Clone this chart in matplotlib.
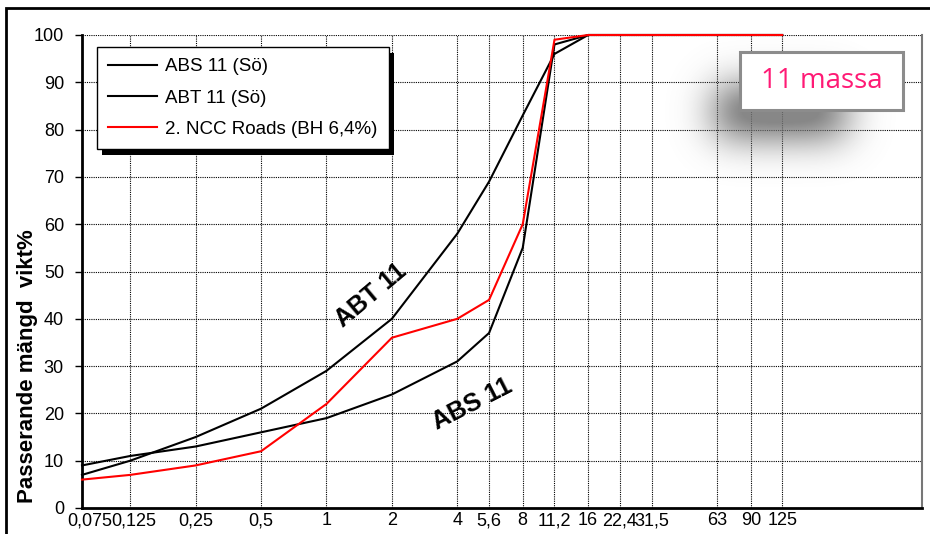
import numpy as np
import matplotlib
matplotlib.use("Agg")
import matplotlib.pyplot as plt
from matplotlib.patches import Rectangle
from matplotlib.transforms import ScaledTranslation

plt.rcParams['font.family'] = ['Liberation Sans', 'DejaVu Sans']

# Sieve sizes (mm) and tick labels
sieves = [0.075, 0.125, 0.25, 0.5, 1, 2, 4, 5.6, 8, 11.2, 16, 22.4, 31.5, 63, 90, 125]
tick_labels = ['0,075', '0,125', '0,25', '0,5', '1', '2', '4', '5,6', '8', '11,2',
               '16', '22,4', '31,5', '63', '90', '125']

# Passing percentages
abs11 = [9, 11, 13, 16, 19, 24, 31, 37, 55, 98, 100, 100, 100, 100, 100, 100]
abt11 = [7, 10, 15, 21, 29, 40, 58, 69, 83, 96, 100, 100, 100, 100, 100, 100]
ncc = [6, 7, 9, 12, 22, 36, 40, 44, 60, 99, 100, 100, 100, 100, 100, 100]

W, H = 930, 534
fig = plt.figure(figsize=(W / 100, H / 100), dpi=100)

# axes placed in pixel terms
left, right, top, bottom = 82, 922, 35, 508
ax = fig.add_axes([left / W, 1 - bottom / H, (right - left) / W, (bottom - top) / H])

ax.plot(sieves, abs11, color='black', lw=1.5, label='ABS 11 (Sö)', zorder=3, clip_on=False)
ax.plot(sieves, abt11, color='black', lw=1.5, label='ABT 11 (Sö)', zorder=3, clip_on=False)
ax.plot(sieves, ncc, color='red', lw=1.5, label='2. NCC Roads (BH 6,4%)', zorder=4, clip_on=False)

ax.set_xscale('log')
ax.set_xlim(0.075, 550)
ax.set_ylim(0, 100)
ax.set_xticks(sieves)
ax.set_xticklabels(tick_labels, fontsize=13)
ax.xaxis.set_minor_locator(matplotlib.ticker.NullLocator())
ax.set_yticks(range(0, 101, 10))
ax.tick_params(axis='y', labelsize=13, length=5, width=1, direction='out', pad=8)
ax.tick_params(axis='x', length=0, pad=3)

# first two labels sit a little right of their ticks, as in the original
for lbl, dx in zip(ax.get_xticklabels()[:2], [0.08, 0.04]):
    lbl.set_transform(lbl.get_transform() + ScaledTranslation(dx, 0, fig.dpi_scale_trans))

ax.grid(True, color='black', linestyle=(0, (1, 1)), linewidth=0.8)
ax.set_axisbelow(True)

for s in ['left', 'bottom']:
    ax.spines[s].set_linewidth(2)
    ax.spines[s].set_color('black')
ax.spines['top'].set_visible(False)
ax.spines['right'].set_color('#777777')
ax.spines['right'].set_linewidth(1.5)

ax.set_ylabel('Passerande mängd  vikt%', fontsize=16, fontweight='bold')
ax.yaxis.set_label_coords((38 - left) / (right - left), 0.3)

ax.text(1.6, 45, 'ABT 11', rotation=40, fontsize=18, fontweight='bold',
        ha='center', va='center')
ax.text(4.7, 22, 'ABS 11', rotation=27, fontsize=18, fontweight='bold',
        ha='center', va='center')

leg = ax.legend(loc='upper left', bbox_to_anchor=((97 - left) / (right - left), (bottom - 47) / (bottom - top)),
                borderaxespad=0, fancybox=False, framealpha=1, edgecolor='black',
                fontsize=13.5, handlelength=2.6, handletextpad=0.45, labelspacing=0.75,
                borderpad=0.6)
leg.get_frame().set_linewidth(1)
leg.set_zorder(6)

# legend drop shadow
fig.canvas.draw()
bb = leg.get_window_extent()
shadow = Rectangle((bb.x0 + 5, bb.y0 - 6), bb.width, bb.height, transform=None,
                   facecolor='black', edgecolor='none', zorder=5.5, clip_on=False)
ax.add_patch(shadow)

# soft blurred shadow behind the title box
sx0, sy0, sx1, sy1 = 640, 30, 910, 190
sw, sh = sx1 - sx0, sy1 - sy0
yy, xx = np.mgrid[0:sh, 0:sw]
mask = ((xx + sx0 > 715) & (xx + sx0 < 845) & (yy + sy0 > 88) & (yy + sy0 < 135)).astype(float)
k = np.exp(-0.5 * (np.arange(-60, 61) / 20.0) ** 2)
k /= k.sum()
mask = np.apply_along_axis(lambda r: np.convolve(r, k, mode='same'), 1, mask)
mask = np.apply_along_axis(lambda c: np.convolve(c, k, mode='same'), 0, mask)
rgba = np.zeros((sh, sw, 4))
rgba[..., :3] = 0.45
rgba[..., 3] = np.clip(mask * 1.25, 0, 0.85)
sax = fig.add_axes([sx0 / W, 1 - sy1 / H, sw / W, sh / H])
sax.imshow(rgba, aspect='auto', interpolation='bilinear')
sax.axis('off')
sax.set_zorder(0.5)

bx0, by0, bx1, by1 = 740, 52, 903, 110
fig.patches.append(Rectangle((bx0 / W, 1 - by1 / H), (bx1 - bx0) / W, (by1 - by0) / H,
                             transform=fig.transFigure, facecolor='white',
                             edgecolor='#8c8c8c', linewidth=2.2, zorder=2))
fig.text((bx0 + bx1) / 2 / W, 1 - (by0 + by1) / 2 / H, '11 massa', color='#ff1a75',
         fontsize=20, family=['Open Sans', 'DejaVu Sans'], ha='center', va='center', zorder=3)

# outer chart border
fig.patches.append(Rectangle((6 / W, -0.05), 1.0, 1 - 8 / H + 0.05, transform=fig.transFigure,
                             fill=False, edgecolor='black', linewidth=2, zorder=4,
                             clip_on=False))

fig.savefig('out.png', dpi=100)
